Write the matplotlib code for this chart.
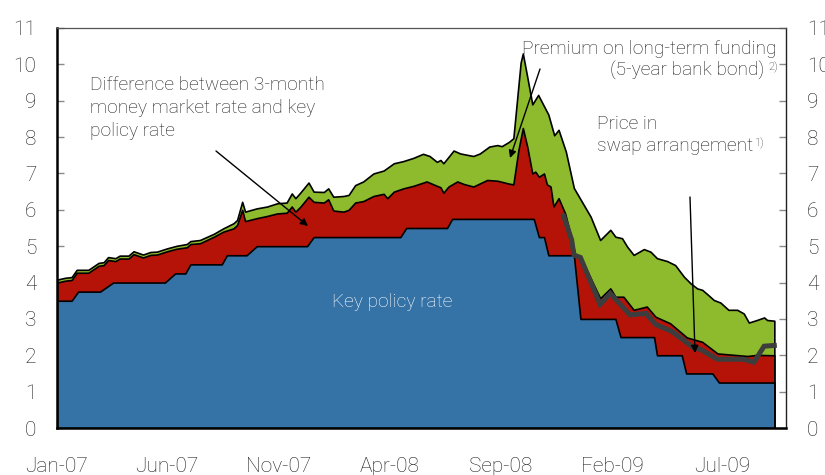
import matplotlib
matplotlib.use("Agg")
import matplotlib.pyplot as plt
import numpy as np
import pandas as pd

# ---------------- data ----------------
policy_dates = ['2007-01-01', '2007-01-21', '2007-01-30', '2007-03-01', '2007-03-19',
                '2007-05-29', '2007-06-12', '2007-06-26', '2007-07-03', '2007-08-15',
                '2007-08-22', '2007-09-18', '2007-10-02', '2007-12-10', '2007-12-19',
                '2008-04-16', '2008-04-24', '2008-06-19', '2008-06-26', '2008-10-16',
                '2008-10-23', '2008-10-30', '2008-11-05', '2008-12-10', '2008-12-19',
                '2009-02-05', '2009-02-12', '2009-03-30', '2009-04-03', '2009-05-07',
                '2009-05-13', '2009-06-18', '2009-06-27', '2009-09-11']
policy_vals = [3.50, 3.50, 3.75, 3.75, 4.00, 4.00, 4.25, 4.25, 4.50, 4.50,
               4.75, 4.75, 5.00, 5.00, 5.25, 5.25, 5.50, 5.50, 5.75, 5.75,
               5.25, 5.25, 4.75, 4.75, 3.00, 3.00, 2.50, 2.50, 2.00, 2.00,
               1.50, 1.50, 1.25, 1.25]

money_dates = ['2007-01-01', '2007-01-12', '2007-01-21', '2007-01-28', '2007-02-13', '2007-02-27',
               '2007-03-06', '2007-03-12', '2007-03-22', '2007-03-28', '2007-04-09', '2007-04-16',
               '2007-04-29', '2007-05-09', '2007-05-18', '2007-06-01', '2007-06-14', '2007-06-28',
               '2007-07-03', '2007-07-16', '2007-08-04', '2007-08-17', '2007-08-31', '2007-09-05',
               '2007-09-12', '2007-09-16', '2007-10-02', '2007-10-16', '2007-10-30', '2007-11-12',
               '2007-11-19', '2007-11-24', '2007-12-01', '2007-12-12', '2007-12-19', '2008-01-02',
               '2008-01-08', '2008-01-15', '2008-01-29', '2008-02-05', '2008-02-14', '2008-02-25',
               '2008-03-10', '2008-03-24', '2008-03-29', '2008-04-07', '2008-04-20', '2008-05-04',
               '2008-05-22', '2008-06-05', '2008-06-10', '2008-06-14', '2008-06-21', '2008-07-03',
               '2008-07-12', '2008-07-25', '2008-08-13', '2008-08-27', '2008-09-12', '2008-09-18',
               '2008-09-25', '2008-10-01', '2008-10-07', '2008-10-14', '2008-10-18', '2008-10-23',
               '2008-10-30', '2008-11-03', '2008-11-08', '2008-11-12', '2008-11-19', '2008-11-28',
               '2008-12-05', '2008-12-12', '2008-12-19', '2009-01-15', '2009-01-29', '2009-02-05',
               '2009-02-16', '2009-03-02', '2009-03-20', '2009-04-01', '2009-04-21', '2009-05-14',
               '2009-06-04', '2009-06-25', '2009-08-05', '2009-08-18', '2009-09-11']
money_vals = [4.00, 4.05, 4.07, 4.27, 4.27, 4.46,
              4.48, 4.62, 4.59, 4.66, 4.66, 4.78,
              4.69, 4.76, 4.77, 4.86, 4.93, 4.97,
              5.06, 5.08, 5.26, 5.40, 5.49, 5.58,
              6.00, 5.69, 5.77, 5.83, 5.90, 5.92,
              6.09, 5.95, 6.09, 6.36, 6.22, 6.20,
              6.29, 5.98, 5.95, 6.00, 6.20, 6.24,
              6.38, 6.44, 6.32, 6.50, 6.59, 6.66,
              6.78, 6.66, 6.62, 6.47, 6.64, 6.78,
              6.71, 6.64, 6.82, 6.80, 6.72, 6.70,
              7.65, 8.25, 7.74, 7.00, 7.05, 6.91,
              7.00, 6.70, 6.64, 6.09, 6.32, 5.90,
              5.35, 4.76, 4.71, 3.57, 3.84, 3.61,
              3.61, 3.25, 3.34, 3.06, 2.88, 2.49,
              2.37, 2.05, 1.98, 2.01, 2.00]

bond_dates = ['2007-01-01', '2007-01-12', '2007-01-21', '2007-01-28', '2007-02-13', '2007-02-27',
              '2007-03-06', '2007-03-12', '2007-03-22', '2007-03-28', '2007-04-09', '2007-04-16',
              '2007-04-29', '2007-05-09', '2007-05-18', '2007-06-01', '2007-06-14', '2007-06-28',
              '2007-07-03', '2007-07-16', '2007-08-04', '2007-08-17', '2007-08-31', '2007-09-05',
              '2007-09-12', '2007-09-16', '2007-10-02', '2007-10-16', '2007-10-30', '2007-11-12',
              '2007-11-19', '2007-11-24', '2007-12-01', '2007-12-12', '2007-12-19', '2008-01-02',
              '2008-01-08', '2008-01-15', '2008-01-29', '2008-02-05', '2008-02-14', '2008-02-25',
              '2008-03-10', '2008-03-24', '2008-04-07', '2008-04-20', '2008-05-04', '2008-05-17',
              '2008-05-26', '2008-06-05', '2008-06-10', '2008-06-14', '2008-06-28', '2008-07-07',
              '2008-07-25', '2008-08-03', '2008-08-16', '2008-08-27', '2008-09-02', '2008-09-12',
              '2008-09-18', '2008-09-28', '2008-10-01', '2008-10-07', '2008-10-14', '2008-10-22',
              '2008-10-30', '2008-11-05', '2008-11-13', '2008-11-19', '2008-11-29', '2008-12-10',
              '2009-01-02', '2009-01-15', '2009-01-29', '2009-02-05', '2009-02-14', '2009-02-21',
              '2009-03-02', '2009-03-16', '2009-03-25', '2009-04-03', '2009-04-17', '2009-04-28',
              '2009-05-10', '2009-05-19', '2009-05-28', '2009-06-04', '2009-06-11', '2009-06-20',
              '2009-06-29', '2009-07-10', '2009-07-22', '2009-07-31', '2009-08-07', '2009-08-18',
              '2009-08-28', '2009-09-01', '2009-09-11']
bond_vals = [4.08, 4.13, 4.15, 4.35, 4.35, 4.54,
             4.56, 4.70, 4.67, 4.74, 4.74, 4.86,
             4.77, 4.84, 4.85, 4.94, 5.01, 5.06,
             5.14, 5.17, 5.34, 5.49, 5.63, 5.72,
             6.22, 5.95, 6.04, 6.09, 6.18, 6.20,
             6.45, 6.32, 6.48, 6.75, 6.50, 6.49,
             6.59, 6.36, 6.38, 6.41, 6.68, 6.78,
             7.00, 7.08, 7.28, 7.34, 7.43, 7.54,
             7.48, 7.32, 7.37, 7.28, 7.63, 7.55,
             7.48, 7.55, 7.74, 7.78, 7.75, 7.87,
             7.97, 10.05, 10.30, 9.66, 8.90, 9.16,
             8.85, 8.62, 8.05, 8.20, 7.60, 6.60,
             5.81, 5.17, 5.45, 5.26, 5.22, 4.99,
             4.76, 4.92, 4.85, 4.67, 4.59, 4.48,
             4.16, 3.98, 3.84, 3.80, 3.68, 3.52,
             3.45, 3.25, 3.25, 3.15, 2.90, 2.97,
             3.04, 2.97, 2.95]

swap_dates = ['2008-11-26', '2008-12-07', '2008-12-10', '2008-12-19', '2009-01-15', '2009-01-29',
              '2009-02-25', '2009-03-19', '2009-04-01', '2009-04-24', '2009-05-23', '2009-06-02',
              '2009-06-25', '2009-07-31', '2009-08-14', '2009-08-28', '2009-09-11']
swap_vals = [5.83, 5.17, 4.76, 4.69, 3.40, 3.70,
             3.11, 3.15, 2.85, 2.65, 2.21, 2.16,
             1.89, 1.89, 1.81, 2.25, 2.27]

xtick_dates = ['2007-01-01', '2007-06-01', '2007-11-01', '2008-04-01',
               '2008-09-01', '2009-02-01', '2009-07-01']
xtick_labels = ['Jan-07', 'Jun-07', 'Nov-07', 'Apr-08', 'Sep-08', 'Feb-09', 'Jul-09']
yticks = list(range(0, 12))

# ---------------- style ----------------
C_BLUE = '#3572a6'
C_RED = '#b51308'
C_GREEN = '#8dbb2d'
C_SWAP = '#3d3d3d'
TXT = '#1e1e1e'
FONT = ['Roboto', 'DejaVu Sans']
plt.rcParams['font.family'] = FONT

W, H = 825, 475
fig = plt.figure(figsize=(W / 100, H / 100), dpi=100)
ax = fig.add_axes([57 / W, 1 - 428 / H, (786 - 57) / W, 400 / H])

to_d = lambda s: pd.to_datetime(s).to_numpy()
bx, by = to_d(bond_dates), np.array(bond_vals)
mx, my = to_d(money_dates), np.array(money_vals)
px, py = to_d(policy_dates), np.array(policy_vals)
sx, sy = to_d(swap_dates), np.array(swap_vals)

ax.fill_between(bx, 0, by, facecolor=C_GREEN, edgecolor='black', linewidth=1.2, zorder=1)
ax.fill_between(mx, 0, my, facecolor=C_RED, edgecolor='black', linewidth=1.2, zorder=2)
ax.fill_between(px, 0, py, facecolor=C_BLUE, edgecolor='black', linewidth=1.2, zorder=3)
ax.plot(sx, sy, color=C_SWAP, linewidth=3.6, zorder=4, solid_joinstyle='miter')

ax.set_xlim(pd.Timestamp('2007-01-01'), pd.Timestamp('2009-09-27'))
ax.set_ylim(0, 11)
ax.set_xticks(to_d(xtick_dates))
ax.set_xticklabels(xtick_labels)
ax.set_yticks(yticks)

ax.tick_params(axis='x', direction='in', length=6, width=1, color='#8a8a8a',
               labelsize=15, labelcolor=TXT, pad=21)
ax.tick_params(axis='y', direction='in', length=5, width=1, color='#8a8a8a',
               left=True, right=True, labelleft=True, labelright=True,
               labelsize=15, labelcolor=TXT, pad=15)
for lab in ax.get_xticklabels() + ax.get_yticklabels():
    lab.set_fontweight('light')

ax.spines['left'].set_linewidth(1.8)
ax.spines['bottom'].set_linewidth(1.8)
ax.spines['left'].set_color('black')
ax.spines['bottom'].set_color('black')
ax.spines['top'].set_linewidth(0.9)
ax.spines['top'].set_color('#555555')
ax.spines['right'].set_linewidth(1.0)
ax.spines['right'].set_color('#222222')
for s in ax.spines.values():
    s.set_zorder(6)

def fp(x, y):
    return (x / W, 1 - y / H)

tkw = dict(fontsize=13.8, color=TXT, fontweight='light')
fig.text(*fp(90, 90), 'Difference between 3-month', va='baseline', ha='left', **tkw)
fig.text(*fp(90, 113), 'money market rate and key', va='baseline', ha='left', **tkw)
fig.text(*fp(90, 136), 'policy rate', va='baseline', ha='left', **tkw)

fig.text(*fp(777, 54), 'Premium on long-term funding', va='baseline', ha='right', **tkw)
fig.text(*fp(764, 76), '(5-year bank bond)', va='baseline', ha='right', **tkw)
fig.text(*fp(768, 70), '2)', va='baseline', ha='left', fontsize=8, color=TXT, fontweight='light')

fig.text(*fp(597, 129), 'Price in', va='baseline', ha='left', **tkw)
t_swap = fig.text(*fp(597, 151), 'swap arrangement', va='baseline', ha='left', **tkw)
fig.canvas.draw()
bb = t_swap.get_window_extent()
fig.text((bb.x1 + 1) / W, 1 - 146 / H, '1)', va='baseline', ha='left', fontsize=8,
         color=TXT, fontweight='light')

fig.text(*fp(392, 302), 'Key policy rate', va='center', ha='center', fontsize=13.8,
         color='white', fontweight='light')

akw = dict(arrowstyle='-|>', color='black', lw=1.0, mutation_scale=11, shrinkA=0, shrinkB=0)
for (x0, y0, x1, y1) in [(216, 151, 308, 226), (540, 69, 510, 158), (690, 197, 695, 353)]:
    ax.annotate('', xy=fp(x1, y1), xycoords='figure fraction',
                xytext=fp(x0, y0), textcoords='figure fraction',
                arrowprops=akw, zorder=7, annotation_clip=False)

fig.savefig('out.png', dpi=100)
